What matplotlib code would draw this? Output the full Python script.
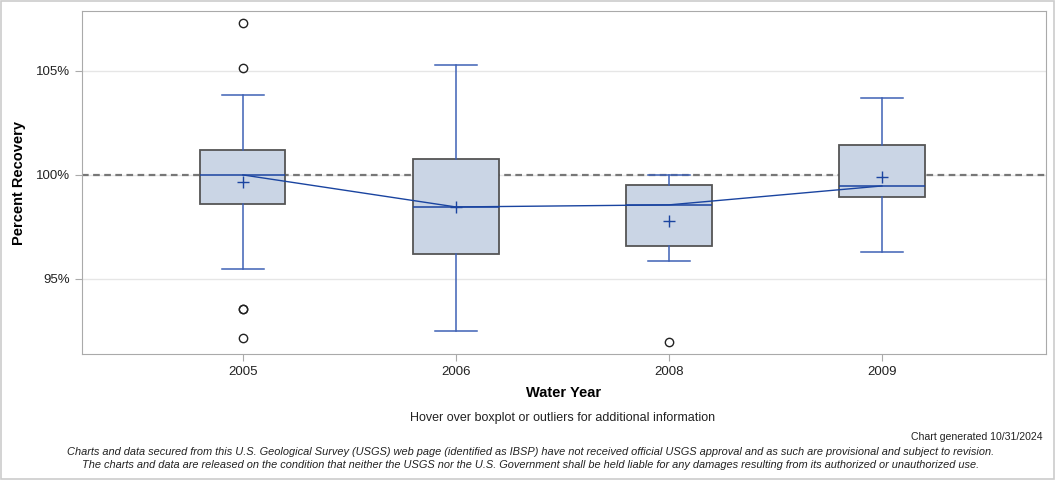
import numpy as np
import matplotlib
matplotlib.use("Agg")
from matplotlib import pyplot as plt
from matplotlib.patches import Rectangle

# values (percent recovery)
years = ["2005", "2006", "2008", "2009"]
whisker_low = [95.48, 92.5, 95.87, 96.3]
q1 = [98.6, 96.2, 96.59, 98.94]
median = [100.0, 98.46, 98.56, 99.47]
q3 = [101.2, 100.77, 99.52, 101.44]
whisker_high = [103.85, 105.29, 100.0, 103.7]
means = [99.66, 98.46, 97.79, 99.9]
outliers = [[107.3, 105.14, 93.56, 93.54, 92.16], [], [91.97], []]

box_fill = "#cad5e5"
box_edge = "#555555"
whisk_col = "#3f62b5"
med_col = "#1a44a0"

plt.rcParams['font.family'] = ['Liberation Sans', 'DejaVu Sans']

fig = plt.figure(figsize=(10.56, 4.8), dpi=100)
fig.patches.append(Rectangle((0.001, 0.002), 0.997, 0.996, transform=fig.transFigure,
                             fill=False, edgecolor="#cccccc", linewidth=1.2))
ax = fig.add_axes([0.0777, 0.2625, 0.9128, 0.7145])

stats = []
for i in range(len(years)):
    stats.append(dict(label=years[i], whislo=whisker_low[i], q1=q1[i], med=median[i],
                      q3=q3[i], whishi=whisker_high[i], mean=means[i], fliers=outliers[i]))

pos = np.arange(len(years))
ax.bxp(stats, positions=pos, widths=0.4, patch_artist=True, showmeans=True,
       boxprops=dict(facecolor=box_fill, edgecolor=box_edge, linewidth=1.3),
       whiskerprops=dict(color=whisk_col, linewidth=1.1),
       capprops=dict(color=whisk_col, linewidth=1.1),
       medianprops=dict(color=med_col, linewidth=1.1),
       meanprops=dict(marker="+", markeredgecolor=med_col, markersize=9, markeredgewidth=1.0),
       flierprops=dict(marker="o", markerfacecolor="none", markeredgecolor="#222222",
                       markersize=6, markeredgewidth=1.0),
       capwidths=0.2, zorder=3)

# line joining the medians
ax.plot(pos, median, color=med_col, linewidth=1.0, zorder=4)

ax.axhline(100, color="#777777", linestyle=(0, (3, 2)), linewidth=1.6, zorder=2)

ax.set_xlim(-0.755, 3.77)
ax.set_ylim(91.39, 107.88)
ax.set_yticks([95, 100, 105])
ax.set_yticklabels(["95%", "100%", "105%"])
ax.grid(axis="y", color="#e6e6e6", linewidth=1.0, zorder=0)
ax.set_axisbelow(True)
for s in ax.spines.values():
    s.set_color("#aaaaaa")
ax.tick_params(axis="both", colors="#aaaaaa", labelcolor="#222222", labelsize=9.5, length=5)

ax.set_ylabel("Percent Recovery", fontsize=10.5, fontweight="bold", labelpad=7)
ax.set_xlabel("Water Year", fontsize=10.5, fontweight="bold", labelpad=6)

fig.text(0.533, 0.129, "Hover over boxplot or outliers for additional information",
         ha="center", va="center", fontsize=9, color="#222222")
fig.text(0.987, 0.090, "Chart generated 10/31/2024", ha="right", va="center",
         fontsize=7.6, color="#222222")
fig.text(0.502, 0.058, "Charts and data secured from this U.S. Geological Survey (USGS) web page "
         "(identified as IBSP) have not received official USGS approval and as such are provisional "
         "and subject to revision.", ha="center", va="center", fontsize=7.9, style="italic",
         color="#222222")
fig.text(0.502, 0.031, "The charts and data are released on the condition that neither the USGS "
         "nor the U.S. Government shall be held liable for any damages resulting from its "
         "authorized or unauthorized use.", ha="center", va="center", fontsize=7.9,
         style="italic", color="#222222")

fig.savefig("out.png", dpi=100)
